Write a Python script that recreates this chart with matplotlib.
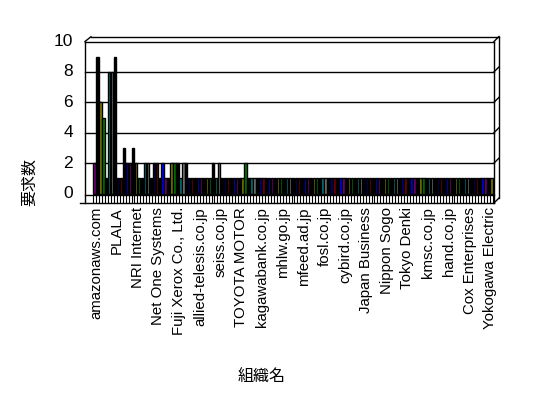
import matplotlib.pyplot as plt
import numpy as np

plt.rcParams['font.family'] = ['Noto Sans CJK JP', 'DejaVu Sans']

# request counts per organization (135 organizations)
values = [2, 9, 6, 5, 1, 8, 8, 9, 1, 1,
          3, 2, 2, 3, 2, 1, 1, 2, 2, 1,
          2, 2, 1, 2, 1, 1, 2, 2, 2, 1,
          2, 2, 1, 1, 1, 1, 1, 1, 1, 1,
          2, 1, 2, 1, 1, 1, 1, 1, 1, 1,
          1, 2] + [1] * 83

# every 7th organization is labelled
tick_labels = ["amazonaws.com", "PLALA", "NRI Internet", "Net One Systems",
               "Fuji Xerox Co., Ltd.", "allied-telesis.co.jp", "seiss.co.jp",
               "TOYOTA MOTOR", "kagawabank.co.jp", "mhlw.go.jp", "mfeed.ad.jp",
               "fosl.co.jp", "cybird.co.jp", "Japan Business", "Nippon Sogo",
               "Tokyo Denki", "kmsc.co.jp", "hand.co.jp", "Cox Enterprises",
               "Yokogawa Electric"]

palette = ["#800080", "#000000", "#808000", "#008000", "#000000", "#008080",
           "#808080", "#000000", "#000080", "#800000", "#000000", "#0000FF"]

n = len(values)
W, H = 548, 398
fig = plt.figure(figsize=(W / 100, H / 100), dpi=100)

# axes box in pixels
L, R, T, B = 80, 500, 36, 204
ax = fig.add_axes([L / W, 1 - B / H, (R - L) / W, (B - T) / H])
cw = 400 / n          # pixels per category
x0 = 93               # left edge of first category
ppu = 15.2            # pixels per value unit
y0 = 193.5            # pixel row of value 0


def dx(px):
    return (px - x0) / cw - 0.5


def dy(py):
    return (y0 - py) / ppu


ax.set_xlim(dx(L), dx(R))
ax.set_ylim(dy(B), dy(T))
ax.axis("off")

lk = dict(color="black", lw=1.0, clip_on=False, zorder=1)

# front grid lines and frame
for v in [2, 4, 6, 8, 10]:
    ax.plot([dx(85), dx(494)], [v, v], **lk)
    ax.plot([dx(494), dx(499)], [v, v + 5 / ppu], **lk)
ax.plot([dx(85), dx(85)], [dy(203), 10], **lk)
ax.plot([dx(85), dx(91)], [10, dy(36.7)], **lk)
ax.plot([dx(91), dx(499)], [dy(36.7), dy(36.7)], **lk)
ax.plot([dx(494), dx(494)], [10, dy(203)], **lk)
ax.plot([dx(499), dx(499)], [dy(36.7), dy(198)], **lk)

# floor with category ticks
ax.plot([dx(85), dx(494)], [dy(194.5), dy(194.5)], **lk)
ax.plot([dx(80), dx(494)], [dy(203), dy(203)], **lk)
ax.plot([dx(494), dx(499)], [dy(203), dy(198)], **lk)
for i in range(n + 1):
    ax.plot([i - 0.5, i - 0.5], [dy(195), dy(203)], color="black",
            lw=0.8, clip_on=False, zorder=1)

# bars
colors = [palette[i % len(palette)] for i in range(n)]
ax.bar(np.arange(n), values, width=0.78, color=colors, edgecolor="black",
       linewidth=1.0, zorder=3)

# y tick labels
for v in [0, 2, 4, 6, 8, 10]:
    ax.text(dx(73), v, str(v), ha="right", va="center", fontsize=12.5,
            family=["Liberation Sans", "DejaVu Sans"])

# category labels
for k, lab in enumerate(tick_labels):
    ax.text(k * 7 + 0.6, dy(207), lab, rotation=90, ha="center", va="top",
            fontsize=10.8, family=["Liberation Sans", "DejaVu Sans"])

fig.text(30 / W, 1 - 182 / H, "要求数", rotation=90, ha="center",
         va="center", fontsize=11.5)
fig.text(262 / W, 1 - 376 / H, "組織名", ha="center", va="center",
         fontsize=11.5)

fig.savefig("out.png", dpi=100)
